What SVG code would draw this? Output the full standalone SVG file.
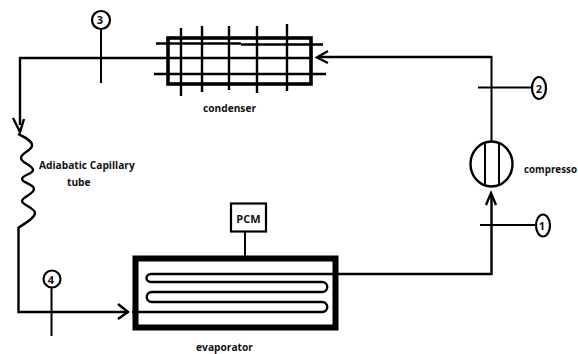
<svg xmlns="http://www.w3.org/2000/svg" width="578" height="354" viewBox="0 0 578 354">
<defs><style>
.l{fill:none;stroke:#000;stroke-width:2}
.t{fill:none;stroke:#000;stroke-width:2.400}
.k{fill:none;stroke:#000;stroke-width:3.600}
.h{fill:none;stroke:#000;stroke-width:6}
.c{fill:#fff;stroke:#000;stroke-width:2.200}
text{font-family:"Open Sans","Liberation Sans",sans-serif;font-size:10.200px;font-weight:700;fill:#111}
.n{font-size:11px;text-anchor:middle}
.s{font-size:9.800px}
</style></defs>
<rect width="578" height="354" fill="#fff"/>
<g id="connectors">
<path class="t" d="M313 58H20V125"/>
<path class="t" d="M13 118L20 132L24 119"/>
<path class="l" d="M101 28V83"/>
<path class="t" d="M18.500 227V312H128"/>
<path class="t" d="M118 304L128 312L118 319"/>
<path class="l" d="M51.500 284V336"/>
<path class="t" d="M338 274H491.500V194"/>
<path class="t" d="M486 205L491 193L496 205"/>
<path class="l" d="M480 225H536"/>
<path class="l" d="M491.500 142V56"/>
<path class="t" d="M491.500 57H318"/>
<path class="t" d="M328 51L317 57.500L328 63"/>
<path class="l" d="M478 87.500H533"/>
<path class="l" d="M245 232V256"/>
</g>
<g id="capillary"><path class="t" d="M18 134C24 137 33 141 32 146C31 151 21 153 21 158C21 163 33 165 33 170C33 174 22 175 22 179C22 183 34 184 34 189C34 194 22 197 22 201C22 205 35 208 35 213C35 218 24 224 18 228"/>
<text x="39" y="169">Adiabatic Capillary</text><text x="67" y="186">tube</text></g>
<g id="condenser"><rect class="k" x="168" y="38" width="143" height="46"/>
<path class="t" d="M156 43.500H241M241 44.500H323M154 74H326M181 28V96M202 26V92M229 26V90M257 26V93M287 24V91"/>
<text x="229.500" y="112" text-anchor="middle">condenser</text></g>
<g id="compressor"><ellipse class="t" cx="491.500" cy="164" rx="21" ry="22.500"/>
<path class="l" d="M485 142V186M499 142V186"/>
<text class="s" x="524" y="173">compresso</text></g>
<g id="evaporator"><rect class="h" x="135.500" y="258.500" width="200" height="69"/>
<path class="t" d="M338 274H151C145 274 145 282 151 282H322C329 282 329 292 322 292H152C145 292 145 302 152 302H322C329 302 329 312 322 312H132"/>
<text x="224.500" y="351" text-anchor="middle">evaporator</text></g>
<g id="pcm"><rect class="c" x="231" y="203.500" width="35" height="28"/><text x="248.500" y="223" class="n">PCM</text></g>
<g id="p3"><circle class="c" cx="101" cy="20" r="9"/><text class="n" x="100" y="24">3</text></g>
<g id="p2"><ellipse class="c" cx="539" cy="88" rx="7" ry="11"/><text class="n" x="539" y="93">2</text></g>
<g id="p1"><ellipse class="c" cx="543" cy="225.500" rx="7" ry="11"/><text class="n" x="542" y="230">1</text></g>
<g id="p4"><circle class="c" cx="52" cy="279" r="8.500"/><text class="n" x="51" y="284">4</text></g>
</svg>
